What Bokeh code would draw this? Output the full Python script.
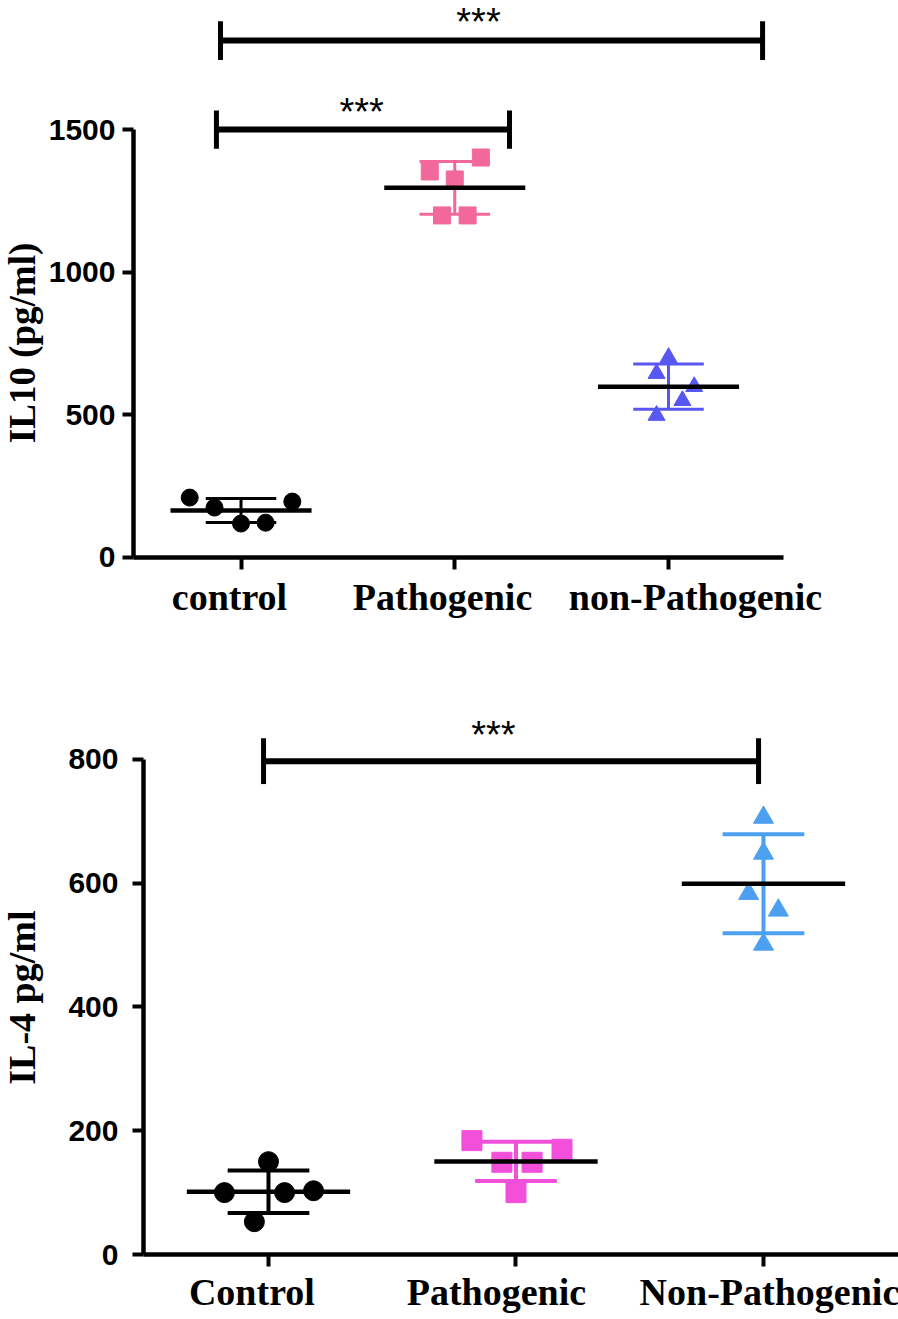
import numpy as np
from bokeh.plotting import figure
from bokeh.layouts import column
from bokeh.models import FixedTicker, Label
from bokeh.core.properties import value
from bokeh.embed import file_html
from bokeh.resources import INLINE

# ---------------- Panel A: IL10 ----------------
il10_groups = ["control", "Pathogenic", "non-Pathogenic"]
il10_control = [210, 175, 119, 122, 196]
il10_pathogenic = [1353, 1402, 1325, 1199, 1199]
il10_nonpath = [701, 645, 599, 550, 498]
il10_yticks = [0, 500, 1000, 1500]
il10_title = "IL10 (pg/ml)"
il10_sig = ["***", "***"]

# ---------------- Panel B: IL-4 ----------------
il4_groups = ["Control", "Pathogenic", "Non-Pathogenic"]
il4_control = [150, 100, 100, 103, 53]
il4_pathogenic = [184, 170, 149, 149, 100]
il4_nonpath = [706, 648, 583, 556, 501]
il4_yticks = [0, 200, 400, 600, 800]
il4_title = "IL-4 pg/ml"
il4_sig = ["***"]

# ---------------- styling / layout (not data) ----------------
il10_colors = ["#000000", "#F2689B", "#5757F2"]
il4_colors = ["#000000", "#F24FDB", "#4D9FF0"]
markers = ["circle", "square", "triangle"]
il10_jitter = [[-0.24, -0.124, 0.0, 0.115, 0.24],
               [-0.117, 0.122, 0.0, -0.06, 0.06],
               [0.0, -0.056, 0.12, 0.065, -0.056]]
il4_jitter = [[0.0, -0.178, 0.065, 0.182, -0.057],
              [-0.178, 0.186, -0.057, 0.065, 0.0],
              [0.0, 0.0, -0.06, 0.06, 0.0]]
# category label placement: (x offset from tick, baseline y)
il10_label_dx = [-0.054, -0.057, 0.126]
il10_label_y = -140
il4_label_dx = [-0.067, -0.079, 0.024]
il4_label_y = -61
# brackets: (x_start, x_end, y, half-height of end ticks, text x, text top y)
il10_brackets = [(0.904, 3.44, 1812, 68, 2.111, 1950),
                 (0.885, 2.256, 1500, 67, 1.564, 1635)]
il4_brackets = [(0.98, 2.98, 797, 37, 1.909, 873)]


def style_axes(p, ticks, xbounds, ytick_font, ystandoff):
    p.xgrid.visible = False
    p.ygrid.visible = False
    p.outline_line_color = None
    p.background_fill_color = "white"
    p.border_fill_color = "white"
    ya = p.yaxis[0]
    ya.fixed_location = xbounds[0]
    ya.ticker = FixedTicker(ticks=ticks, minor_ticks=[])
    ya.bounds = (ticks[0], ticks[-1])
    ya.axis_line_width = 4.5
    ya.major_tick_line_width = 4
    ya.major_tick_in = 0
    ya.major_tick_out = 11
    ya.minor_tick_line_color = None
    ya.major_label_standoff = ystandoff
    ya.major_label_text_font = "Liberation Sans"
    ya.major_label_text_font_style = "bold"
    ya.major_label_text_font_size = ytick_font
    ya.major_label_text_color = "black"
    xa = p.xaxis[0]
    xa.fixed_location = ticks[0]
    xa.bounds = xbounds
    xa.ticker = FixedTicker(ticks=[1, 2, 3], minor_ticks=[])
    xa.major_label_overrides = {1: "", 2: "", 3: ""}
    xa.axis_line_width = 4.5
    xa.major_tick_line_width = 4
    xa.major_tick_in = 0
    xa.major_tick_out = 12
    xa.minor_tick_line_color = None
    xa.major_label_text_font_size = "1px"


def draw_category_labels(p, groups, dx, y, size):
    xs = [i + 1 + d for i, d in enumerate(dx)]
    p.text(xs, [y] * len(groups), text=groups, text_font=value("Liberation Serif"),
           text_font_style="bold", text_font_size=size, text_align="center",
           text_baseline="alphabetic", text_color="black")


def draw_groups(p, series, jitter, colors, size, err_w, mean_w):
    stats = []
    for i, (vals, jit, col, mk) in enumerate(zip(series, jitter, colors, markers)):
        x0 = i + 1
        xs = [x0 + j for j in jit]
        p.scatter(xs, vals, marker=mk, size=size, fill_color=col, line_color=col)
        m = float(np.mean(vals))
        s = float(np.std(vals, ddof=1))
        stats.append((x0, m, s, col))
    for x0, m, s, col in stats:
        p.segment([x0], [m - s], [x0], [m + s], line_color=col, line_width=err_w)
        p.segment([x0 - 0.165, x0 - 0.165], [m - s, m + s], [x0 + 0.165, x0 + 0.165],
                  [m - s, m + s], line_color=col, line_width=err_w)
    for x0, m, s, col in stats:
        p.segment([x0 - 0.33], [m], [x0 + 0.33], [m], line_color="black", line_width=mean_w)


def draw_brackets(p, brackets, labels):
    for (xa, xb, y, h, tx, ty), lab in zip(brackets, labels):
        p.segment([xa], [y], [xb], [y], line_color="black", line_width=6)
        p.segment([xa, xb], [y - h, y - h], [xa, xb], [y + h, y + h],
                  line_color="black", line_width=5)
        p.text([tx], [ty], text=[lab], text_font=value("Liberation Sans"),
               text_font_size="38px", text_align="center", text_baseline="top",
               text_color="black")


def make_fig(height, xr, yr):
    p = figure(width=898, height=height, x_range=xr, y_range=yr,
               output_backend="svg", toolbar_location=None)
    p.min_border = 0
    p.min_border_left = 0
    p.min_border_right = 0
    p.min_border_top = 0
    p.min_border_bottom = 0
    return p


# ---------- figure 1 ----------
p1 = make_fig(648, (-0.1252, 4.0759), (-318.96, 1952.3))
style_axes(p1, il10_yticks, (0.497, 3.538), "30px", 7)
draw_groups(p1, [il10_control, il10_pathogenic, il10_nonpath], il10_jitter,
            il10_colors, 17, 3, 4.5)
draw_brackets(p1, il10_brackets, il10_sig)
draw_category_labels(p1, il10_groups, il10_label_dx, il10_label_y, "38px")
p1.add_layout(Label(x=-0.022, y=752, text=il10_title, angle=np.pi / 2,
                    text_align="center", text_baseline="alphabetic",
                    text_font="Liberation Serif", text_font_style="bold",
                    text_font_size="37px", text_color="black"))

# ---------- figure 2 ----------
p2 = make_fig(671, (-0.0828, 3.5455), (-105.0, 979.0))
style_axes(p2, il4_yticks, (0.495, 3.5455), "30px", 14)
draw_groups(p2, [il4_control, il4_pathogenic, il4_nonpath], il4_jitter,
            il4_colors, 20, 4, 4.5)
draw_brackets(p2, il4_brackets, il4_sig)
draw_category_labels(p2, il4_groups, il4_label_dx, il4_label_y, "38px")
p2.add_layout(Label(x=0.006, y=415, text=il4_title, angle=np.pi / 2,
                    text_align="center", text_baseline="alphabetic",
                    text_font="Liberation Serif", text_font_style="bold",
                    text_font_size="38px", text_color="black"))

layout = column(p1, p2, spacing=0)
open("out.html", "w").write(file_html(layout, INLINE))
